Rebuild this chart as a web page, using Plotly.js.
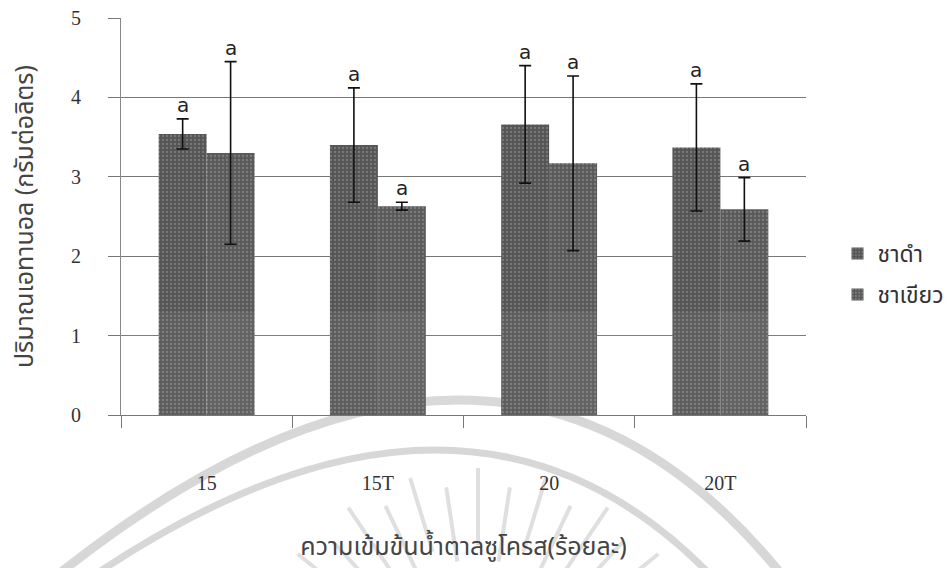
<!DOCTYPE html>
<html>
<head>
<meta charset="utf-8">
<script src="https://cdn.plot.ly/plotly-3.0.1.min.js"></script>
<style>html,body{margin:0;padding:0;background:#fff;}#chart{width:952px;height:568px;}</style>
</head>
<body>
<div id="chart"></div>
<script>
// ---- data ----
const categories = ['15', '15T', '20', '20T'];
const blackTea = [3.54, 3.40, 3.66, 3.37];      // ชาดำ
const blackTeaErr = [0.19, 0.72, 0.74, 0.80];
const greenTea = [3.30, 2.63, 3.17, 2.59];      // ชาเขียว
const greenTeaErr = [1.15, 0.05, 1.10, 0.40];
const blackTeaLetters = ['a', 'a', 'a', 'a'];
const greenTeaLetters = ['a', 'a', 'a', 'a'];
const seriesNames = ['ชาดำ', 'ชาเขียว'];
const yTickVals = [0, 1, 2, 3, 4, 5];

const thaiFont = '"Noto Sans Thai", "Noto Sans", "DejaVu Sans", sans-serif';
const serifFont = '"Liberation Serif", "Times New Roman", serif';

const W = 952, H = 568;
const M = {l: 121, r: 146, t: 18, b: 153, autoexpand: false};
const plotW = W - M.l - M.r, plotH = H - M.t - M.b;
const px = X => Number(((X - M.l) / plotW).toFixed(4));
const py = Y => Number(((H - M.b - Y) / plotH).toFixed(4));

const traces = [
  {
    type: 'bar', name: seriesNames[0], x: categories, y: blackTea,
    marker: {color: '#5a5a5a', pattern: {shape: '.', fgcolor: '#7a7a7a', bgcolor: '#555555', size: 4, solidity: 0.25}},
    error_y: {type: 'data', array: blackTeaErr, visible: true, color: '#111', thickness: 1.6, width: 6},
    legendgroup: 'g1'
  },
  {
    type: 'bar', name: seriesNames[1], x: categories, y: greenTea,
    marker: {color: '#606060', pattern: {shape: '.', fgcolor: '#7e7e7e', bgcolor: '#5a5a5a', size: 4, solidity: 0.25}},
    error_y: {type: 'data', array: greenTeaErr, visible: true, color: '#111', thickness: 1.6, width: 6},
    legendgroup: 'g2'
  }
];

const bargap = 0.44;
const barPx = plotW / categories.length * (1 - bargap) / 2;

const annotations = [];
categories.forEach((c, i) => {
  // category axis: use the category index so numeric-looking names are not read as positions
  annotations.push({x: i, y: blackTea[i] + blackTeaErr[i], xref: 'x', yref: 'y', text: blackTeaLetters[i],
    showarrow: false, xshift: -barPx / 2, yanchor: 'bottom', yshift: 0,
    font: {family: '"DejaVu Sans", sans-serif', size: 20, color: '#222'}});
  annotations.push({x: i, y: greenTea[i] + greenTeaErr[i], xref: 'x', yref: 'y', text: greenTeaLetters[i],
    showarrow: false, xshift: barPx / 2, yanchor: 'bottom', yshift: 0,
    font: {family: '"DejaVu Sans", sans-serif', size: 20, color: '#222'}});
});

// faint scanned-watermark (arcs and rays) behind the chart
const wm = 'rgba(175,175,175,0.5)';
const shapes = [
  {type: 'path', xref: 'paper', yref: 'paper', layer: 'below',
   path: `M${px(45)},${py(585)} Q${px(500)},${py(215)} ${px(790)},${py(585)}`,
   line: {color: wm, width: 9}},
  {type: 'path', xref: 'paper', yref: 'paper', layer: 'below',
   path: `M${px(80)},${py(585)} Q${px(470)},${py(315)} ${px(720)},${py(585)}`,
   line: {color: wm, width: 7}}
];
const cx = 478, cy = 700;
for (let k = 0; k < 17; k++) {
  const ang = (22 + k * 8.5) * Math.PI / 180;
  const r0 = (k % 2 ? 140 : 155), r1 = (k % 2 ? 215 : 232);
  shapes.push({type: 'line', xref: 'paper', yref: 'paper', layer: 'below',
    x0: px(cx + r0 * Math.cos(ang)), y0: py(cy - r0 * Math.sin(ang)),
    x1: px(cx + r1 * Math.cos(ang)), y1: py(cy - r1 * Math.sin(ang)),
    line: {color: 'rgba(185,185,185,0.45)', width: 4}});
}
// lighter lower band of the scanned bars
shapes.push({type: 'rect', xref: 'paper', yref: 'y', x0: 0, x1: 1, y0: 0, y1: 1.3, layer: 'above',
   fillcolor: 'rgba(255,255,255,0.05)', line: {width: 0}});

const layout = {
  width: W, height: H,
  margin: M,
  paper_bgcolor: '#fff', plot_bgcolor: '#fff',
  barmode: 'group', bargap: bargap, bargroupgap: 0,
  showlegend: true,
  legend: {x: 1.046, y: 0.355, xanchor: 'left', yanchor: 'middle',
    font: {family: thaiFont, size: 23, color: '#333'}, tracegroupgap: 8, traceorder: 'grouped',
    bgcolor: 'rgba(0,0,0,0)'},
  xaxis: {
    type: 'category', range: [-0.5, categories.length - 0.5],
    showline: true, linecolor: '#777', linewidth: 1,
    ticks: 'outside', tickson: 'boundaries', ticklen: 12, tickcolor: '#777',
    showgrid: false, ticklabelstandoff: 50, tickangle: 0,
    tickfont: {family: serifFont, size: 20, color: '#333'},
    title: {text: 'ความเข้มข้นน้ำตาลซูโครส(ร้อยละ)', font: {family: thaiFont, size: 25, color: '#444'}, standoff: 44},
    automargin: false
  },
  yaxis: {
    range: [0, 5], tickvals: yTickVals, ticktext: yTickVals.map(String),
    showline: true, linecolor: '#888', linewidth: 1,
    ticks: 'outside', ticklen: 12, tickcolor: '#777',
    showgrid: true, gridcolor: '#777', gridwidth: 1, zeroline: false,
    ticklabelstandoff: 23,
    tickfont: {family: serifFont, size: 20, color: '#333'},
    title: {text: 'ปริมาณเอทานอล (กรัมต่อลิตร)', font: {family: thaiFont, size: 25, color: '#444'}, standoff: 30},
    automargin: false
  },
  annotations: annotations,
  shapes: shapes
};

Plotly.newPlot('chart', traces, layout, {displayModeBar: false, staticPlot: true});
</script>
</body>
</html>
